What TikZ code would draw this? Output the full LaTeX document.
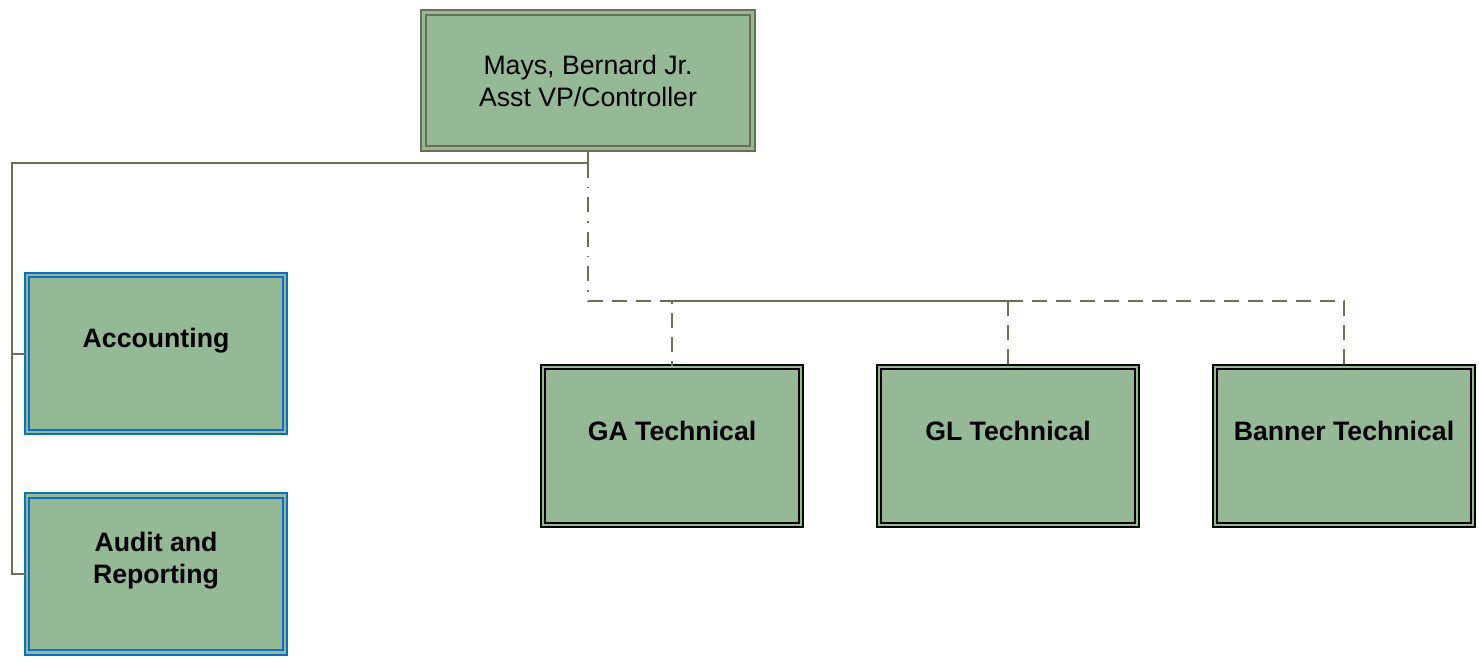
\documentclass[tikz,border=0pt]{standalone}
\usepackage{fontspec}
\setmainfont{Liberation Sans}
\definecolor{boxfill}{HTML}{95B896}
\definecolor{olive}{HTML}{6B6F58}
\definecolor{blueb}{HTML}{0A6FC2}
\tikzset{
  base/.style={fill=boxfill, double=boxfill, inner sep=0pt, align=center},
  topbox/.style={base, draw=olive, line width=1.5pt, double distance=2.25pt,
    minimum width=246.75pt, minimum height=102pt, font=\fontsize{20}{24}\selectfont},
  techbox/.style={base, draw=black, line width=1.3pt, double distance=1.9pt,
    minimum width=193.5pt, minimum height=118.5pt},
  unitbox/.style={base, draw=blueb, line width=1.35pt, double distance=2pt,
    minimum width=193.5pt, minimum height=117.75pt},
  boxtext/.style={font=\fontsize{20}{24}\selectfont\bfseries, align=center, yshift=10pt},
  conn/.style={draw=olive, line width=1.5pt},
  dashconn/.style={conn, dash pattern=on 11.25pt off 6.75pt},
  dashdotconn/.style={conn, dash pattern=on 11.25pt off 6.75pt on 1.1pt off 6.75pt}
}
\begin{document}
\begin{tikzpicture}[x=0.75pt,y=-0.75pt]
\useasboundingbox (0,0) rectangle (1479,662);

\node[topbox] (top) at (588,80.5) {Mays, Bernard Jr.\\Asst VP/Controller};

\node[unitbox, label={[boxtext]center:Accounting}] (acc) at (156,353.5) {};
\node[unitbox, label={[boxtext]center:Audit and\\Reporting}] (audit) at (156,574) {};

\node[techbox, label={[boxtext, yshift=1pt]center:GA Technical}] (ga) at (672,446) {};
\node[techbox, label={[boxtext, yshift=1pt]center:GL Technical}] (gl) at (1008,446) {};
\node[techbox, label={[boxtext, yshift=1pt]center:Banner Technical}] (banner) at (1344,446) {};

\coordinate (j1) at (588,163);
\coordinate (lc) at (12,163);
\coordinate (j2) at (588,301);

\draw[conn] (top.south) -- (j1) -- (lc) |- (audit.west);
\draw[conn] (lc |- acc.west) -- (acc.west);

\draw[dashdotconn] (j1) -- (j2);
\draw[dashconn] (j2) -- (j2 -| ga.north) -- (ga.north);
\draw[conn] (j2 -| ga.north) -- (j2 -| gl.north);
\draw[dashconn] (j2 -| gl.north) -- (gl.north);
\draw[dashconn] (j2 -| gl.north) -- (j2 -| banner.north) -- (banner.north);
\end{tikzpicture}
\end{document}
